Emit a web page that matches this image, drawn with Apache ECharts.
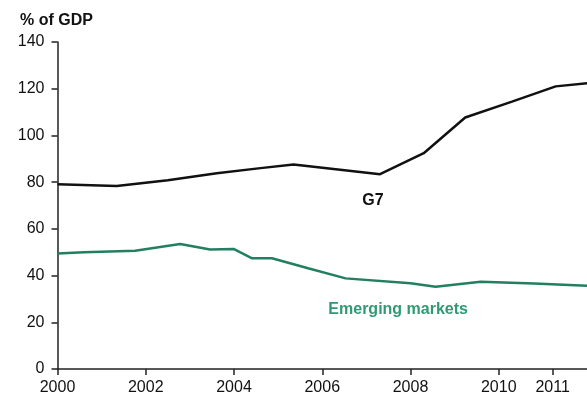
<!DOCTYPE html>
<html>
<head>
<meta charset="utf-8">
<script src="https://cdn.jsdelivr.net/npm/echarts@6/dist/echarts.min.js"></script>
<style>
  html, body { margin: 0; padding: 0; background: #fff; }
  #chart { width: 587px; height: 413px; }
</style>
</head>
<body>
<div id="chart"></div>
<script>
// data (year as decimal, % of GDP)
const g7Years = [2000, 2001.34, 2002.5, 2003.61, 2004.6, 2005.35, 2007.31, 2008.3, 2009.24, 2010.3, 2011.29, 2012.02];
const g7Values = [79.1, 78.3, 80.8, 83.8, 86.0, 87.6, 83.4, 92.4, 107.7, 114.5, 121, 122.4];

const emYears = [2000, 2000.6, 2001.76, 2002.78, 2003.46, 2003.99, 2004.41, 2004.86, 2005.7, 2006.53, 2008.0, 2008.57, 2009.59, 2010.8, 2012.02];
const emValues = [49.5, 50.0, 50.6, 53.5, 51.2, 51.4, 47.4, 47.4, 43.0, 38.8, 36.7, 35.2, 37.4, 36.6, 35.6];

const xTickValues = [2000, 2002, 2004, 2006, 2008, 2010, 2011.22];
const xTickLabels = ['2000', '2002', '2004', '2006', '2008', '2010', '2011'];
const yTicks = [0, 20, 40, 60, 80, 100, 120, 140];

const font = 'Liberation Sans, Arial, sans-serif';

function pairs(xs, ys) {
    return xs.map(function (x, i) { return [x, ys[i]]; });
}

const myChart = echarts.init(document.getElementById('chart'));

const option = {
    animation: false,
    title: {
        text: '% of GDP',
        left: 15,
        top: 8,
        textStyle: { fontFamily: font, fontSize: 16, fontWeight: 'bold', color: '#111' }
    },
    grid: { left: 57.5, right: 0, top: 42, bottom: 44 },
    xAxis: {
        type: 'value',
        min: 2000,
        max: 2012,
        splitLine: { show: false },
        axisLine: { lineStyle: { color: '#222', width: 1.5 } },
        axisTick: { customValues: xTickValues, length: 6, lineStyle: { color: '#222', width: 1.5 } },
        axisLabel: {
            customValues: xTickValues,
            formatter: function (v) { return xTickLabels[xTickValues.indexOf(v)]; },
            fontFamily: font, fontSize: 16, color: '#111', margin: 11
        }
    },
    yAxis: {
        type: 'value',
        min: 0,
        max: 140,
        interval: 20,
        splitLine: { show: false },
        axisLine: { show: true, lineStyle: { color: '#222', width: 1.5 } },
        axisTick: { show: true, length: 6, lineStyle: { color: '#222', width: 1.5 } },
        axisLabel: {
            formatter: function (v) { return yTicks.indexOf(v) >= 0 ? String(v) : ''; },
            fontFamily: font, fontSize: 16, color: '#111', margin: 13
        }
    },
    series: [
        {
            name: 'G7',
            type: 'line',
            data: pairs(g7Years, g7Values),
            symbol: 'none',
            lineStyle: { color: '#111', width: 2.5 },
            markPoint: {
                symbol: 'circle',
                symbolSize: 1,
                itemStyle: { color: 'rgba(0,0,0,0)' },
                data: [{ coord: [2007.15, 72.3], value: 'G7' }],
                label: { show: true, position: 'inside', formatter: 'G7', fontFamily: font, fontSize: 16, fontWeight: 'bold', color: '#111' }
            }
        },
        {
            name: 'Emerging markets',
            type: 'line',
            data: pairs(emYears, emValues),
            symbol: 'none',
            lineStyle: { color: '#237f62', width: 2.5 },
            markPoint: {
                symbol: 'circle',
                symbolSize: 1,
                itemStyle: { color: 'rgba(0,0,0,0)' },
                data: [{ coord: [2007.72, 25.6], value: 'Emerging markets' }],
                label: { show: true, position: 'inside', formatter: 'Emerging markets', fontFamily: font, fontSize: 16, fontWeight: 'bold', color: '#2f9a74' }
            }
        }
    ]
};

myChart.setOption(option);
</script>
</body>
</html>
